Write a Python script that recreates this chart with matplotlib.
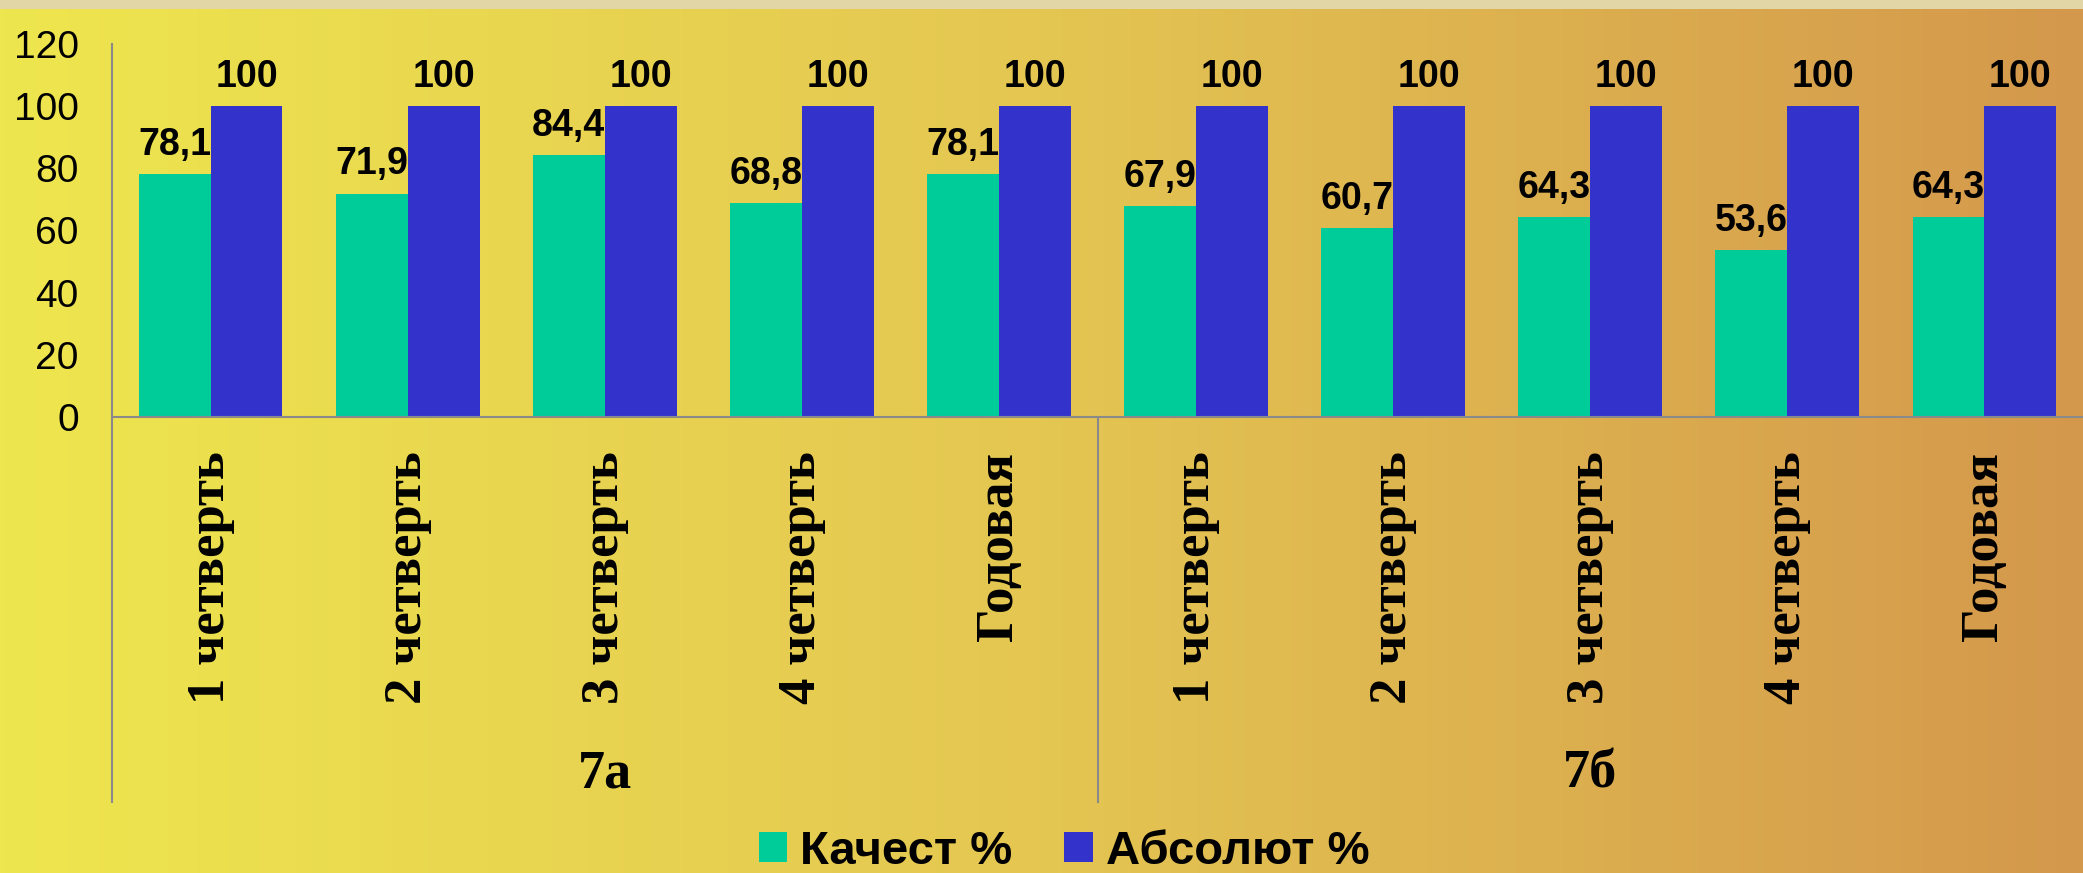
import numpy as np
import matplotlib.pyplot as plt
from matplotlib.lines import Line2D

# данные
categories = ['1 четверть', '2 четверть', '3 четверть', '4 четверть', 'Годовая',
              '1 четверть', '2 четверть', '3 четверть', '4 четверть', 'Годовая']
groups = ['7а', '7б']
kachestvo = [78.1, 71.9, 84.4, 68.8, 78.1, 67.9, 60.7, 64.3, 53.6, 64.3]
absolut = [100, 100, 100, 100, 100, 100, 100, 100, 100, 100]
series_names = ['Качест %', 'Абсолют %']
yticks = [0, 20, 40, 60, 80, 100, 120]

W, H = 2083, 873
fig = plt.figure(figsize=(W / 100, H / 100), dpi=100)

# фон: горизонтальный градиент от жёлтого к оранжевому
bg = fig.add_axes([0, 0, 1, 1], zorder=-10)
stops_x = [0.0, 0.5, 1.0]
stops_c = np.array([[238, 230, 78], [228, 198, 82], [212, 152, 76]]) / 255.0
xs = np.linspace(0, 1, 400)
row = np.stack([np.interp(xs, stops_x, stops_c[:, k]) for k in range(3)], axis=1)
img = np.repeat(row[None, :, :], 200, axis=0)
top_rows = int(round(200 * 7 / H))
img[:top_rows, :, :] = np.array([226, 214, 166]) / 255.0
bg.imshow(img, aspect='auto', extent=[0, 1, 0, 1], origin='upper')
bg.set_axis_off()

left, right = 112 / W, 2083 / W
bottom, top = 1 - 417 / H, 1 - 44 / H
ax = fig.add_axes([left, bottom, right - left, top - bottom])
ax.patch.set_alpha(0)

x = np.arange(len(categories))
w = 0.365
green, blue = '#00CC99', '#3333CC'
b1 = ax.bar(x - w / 2, kachestvo, w, color=green, label=series_names[0])
b2 = ax.bar(x + w / 2, absolut, w, color=blue, label=series_names[1])

def fmt(v):
    return f'{v:g}'.replace('.', ',')

for bars, vals in ((b1, kachestvo), (b2, absolut)):
    for bar, v in zip(bars, vals):
        ax.annotate(fmt(v), (bar.get_x() + bar.get_width() / 2, v),
                    xytext=(0, 8), textcoords='offset points',
                    ha='center', va='bottom', fontsize=27, fontweight='bold',
                    family='Liberation Sans', color='black')

ax.set_xlim(-0.5, len(categories) - 0.5)
ax.set_ylim(0, 120)
ax.set_yticks(yticks)
ax.set_yticklabels([str(t) for t in yticks], fontsize=28, family='Liberation Sans')
ax.set_xticks(x)
ax.set_xticklabels(categories, rotation=90, fontsize=38, fontweight='bold',
                   family='Liberation Serif')
ax.tick_params(axis='y', length=0, pad=24)
ax.tick_params(axis='x', length=0, pad=25)

for s in ['top', 'right', 'left']:
    ax.spines[s].set_visible(False)
ax.spines['bottom'].set_color('#8A8A8A')
ax.spines['bottom'].set_linewidth(1.5)

# вертикальные линии: ось и разделитель групп
trans = ax.get_xaxis_transform()
low = -(802 - 417) / 373
ax.add_line(Line2D([-0.5, -0.5], [1.0, low], transform=trans, color='#8A8A8A',
                   lw=1.5, clip_on=False))
ax.add_line(Line2D([4.5, 4.5], [0.0, low], transform=trans, color='#8A8A8A',
                   lw=1.5, clip_on=False))

# подписи групп
gy = -(774 - 417) / 373
for i, g in enumerate(groups):
    ax.text(2 + 5 * i, gy, g, transform=trans, ha='center', va='center',
            fontsize=39, fontweight='bold', family='Liberation Serif')

fig.legend(handles=[b1, b2], labels=series_names, loc='center',
           bbox_to_anchor=(1064 / W, 1 - 852 / H), ncol=2, frameon=False,
           prop={'family': 'Liberation Sans', 'weight': 'bold', 'size': 34},
           handlelength=0.6, handleheight=0.6, handletextpad=0.28,
           columnspacing=1.1, borderpad=0)

fig.savefig('out.png', dpi=100)
